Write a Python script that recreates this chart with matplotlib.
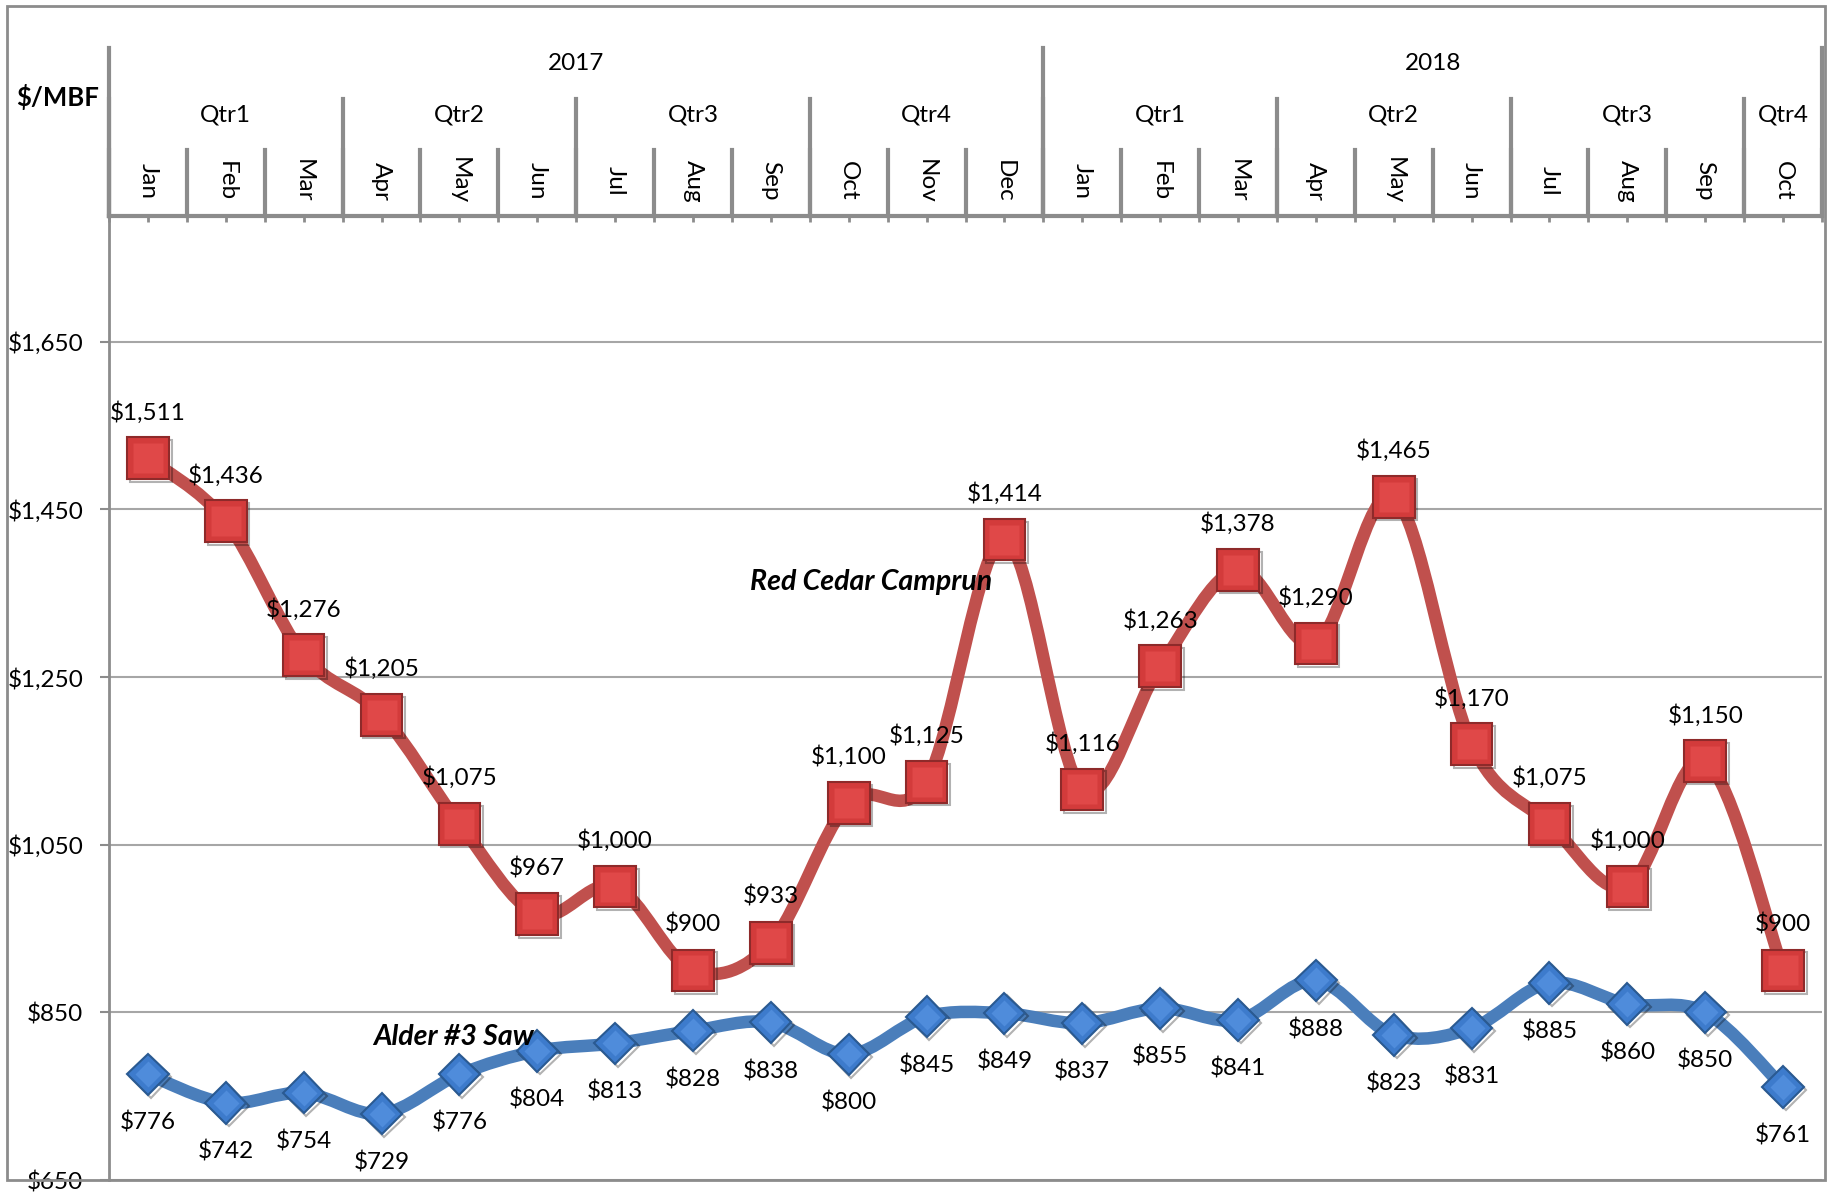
import matplotlib.pyplot as plt
import matplotlib.patheffects as pe
from matplotlib.path import Path
from matplotlib.patches import PathPatch, Rectangle

# data
months = ['Jan', 'Feb', 'Mar', 'Apr', 'May', 'Jun', 'Jul', 'Aug', 'Sep', 'Oct', 'Nov', 'Dec',
          'Jan', 'Feb', 'Mar', 'Apr', 'May', 'Jun', 'Jul', 'Aug', 'Sep', 'Oct']
quarters = ['Qtr1', 'Qtr2', 'Qtr3', 'Qtr4', 'Qtr1', 'Qtr2', 'Qtr3', 'Qtr4']
quarter_len = [3, 3, 3, 3, 3, 3, 3, 1]
years = ['2017', '2018']
year_len = [12, 10]
cedar = [1511, 1436, 1276, 1205, 1075, 967, 1000, 900, 933, 1100, 1125, 1414,
         1116, 1263, 1378, 1290, 1465, 1170, 1075, 1000, 1150, 900]
alder = [776, 742, 754, 729, 776, 804, 813, 828, 838, 800, 845, 849,
         837, 855, 841, 888, 823, 831, 885, 860, 850, 761]
yticks = [650, 850, 1050, 1250, 1450, 1650]

plt.rcParams['font.family'] = ['Lato', 'DejaVu Sans']
FS = 17.5
GRAY = '#8C8C8C'

W, H = 1834, 1192
fig = plt.figure(figsize=(W / 100, H / 100), dpi=100)

x0, x1, ytop, ybot = 109, 1822, 216, 1180
ax = fig.add_axes([x0 / W, (H - ybot) / H, (x1 - x0) / W, (ybot - ytop) / H])
hax = fig.add_axes([x0 / W, (H - ytop) / H, (x1 - x0) / W, 168 / H])

n = len(months)
xs = list(range(n))


def smooth_path(x, y):
    # excel-like smoothed line (bezier through the points)
    verts = [(x[0], y[0])]
    codes = [Path.MOVETO]
    m = len(x)
    for i in range(m - 1):
        pa = (x[i - 1], y[i - 1]) if i > 0 else (x[i], y[i])
        pb = (x[i + 2], y[i + 2]) if i + 2 < m else (x[i + 1], y[i + 1])
        c1 = (x[i] + (x[i + 1] - pa[0]) / 6, y[i] + (y[i + 1] - pa[1]) / 6)
        c2 = (x[i + 1] - (pb[0] - x[i]) / 6, y[i + 1] - (pb[1] - y[i]) / 6)
        verts += [c1, c2, (x[i + 1], y[i + 1])]
        codes += [Path.CURVE4] * 3
    return Path(verts, codes)


ax.set_xlim(-0.5, n - 0.5)
ax.set_ylim(650, 1800)
ax.set_yticks(yticks)
ax.set_yticklabels(['${:,}'.format(v) for v in yticks], fontsize=FS)
ax.yaxis.grid(True, color='#A6A6A6', lw=1.5)
ax.set_axisbelow(True)
ax.tick_params(axis='y', length=6.5, width=1.5, color=GRAY, pad=12)
ax.xaxis.tick_top()
ax.set_xticks(xs)
ax.set_xticks([i - 0.5 for i in range(n + 1)], minor=True)
ax.tick_params(axis='x', which='both', direction='in', length=4.5, width=2,
               color=GRAY, labeltop=False, labelbottom=False)
for s in ['right', 'bottom']:
    ax.spines[s].set_visible(False)
ax.spines['left'].set_color(GRAY)
ax.spines['left'].set_linewidth(2)
ax.spines['top'].set_color(GRAY)
ax.spines['top'].set_linewidth(3)

# lines
ax.add_patch(PathPatch(smooth_path(xs, cedar), fill=False, edgecolor='#C0504D',
                       lw=9, capstyle='round', joinstyle='round', zorder=3))
ax.add_patch(PathPatch(smooth_path(xs, alder), fill=False, edgecolor='#4A7EBB',
                       lw=9, capstyle='round', joinstyle='round', zorder=3))
ax.plot(xs, cedar, ls='none', marker='s', ms=30, mfc='#D33B3B', mec='#8E2A2A', mew=1.5,
        zorder=4, path_effects=[pe.SimpleLineShadow(offset=(2, -2), alpha=0.3), pe.Normal()])
ax.plot(xs, cedar, ls='none', marker='s', ms=21, mfc='#E04848', mec='none', zorder=5)
ax.plot(xs, alder, ls='none', marker='D', ms=21, mfc='#3D7BCC', mec='#2A5A92', mew=1.5,
        zorder=4, path_effects=[pe.SimpleLineShadow(offset=(2, -2), alpha=0.3), pe.Normal()])
ax.plot(xs, alder, ls='none', marker='D', ms=13, mfc='#4F8CDB', mec='none', zorder=5)

for i in xs:
    ax.annotate('${:,}'.format(cedar[i]), (i, cedar[i]), xytext=(0, 33),
                textcoords='offset points', ha='center', va='center', fontsize=FS, zorder=6)
    ax.annotate('${:,}'.format(alder[i]), (i, alder[i]), xytext=(0, -35),
                textcoords='offset points', ha='center', va='center', fontsize=FS, zorder=6)

ax.text(9.29, 1363, 'Red Cedar Camprun', fontsize=20.5, fontweight='bold', style='italic',
        ha='center', va='center', zorder=6)
ax.text(3.92, 821, 'Alder #3 Saw', fontsize=20.5, fontweight='bold', style='italic',
        ha='center', va='center', zorder=6)

# multi level category header
hax.set_xlim(-0.5, n - 0.5)
hax.set_ylim(0, 168)
hax.axis('off')
for i, m in enumerate(months):
    hax.text(i, 35, m, rotation=-90, ha='center', va='center', fontsize=FS)
for i in range(n + 1):
    hax.plot([i - 0.5, i - 0.5], [0, 66], color=GRAY, lw=3, clip_on=False)
start = 0
for q, ln in zip(quarters, quarter_len):
    hax.text(start + ln / 2 - 0.5, 101, q, ha='center', va='center', fontsize=FS)
    hax.plot([start - 0.5, start - 0.5], [0, 117], color=GRAY, lw=3, clip_on=False)
    start += ln
start = 0
for yr, ln in zip(years, year_len):
    hax.text(start + ln / 2 - 0.5, 153, yr, ha='center', va='center', fontsize=FS)
    hax.plot([start - 0.5, start - 0.5], [0, 168], color=GRAY, lw=3, clip_on=False)
    start += ln
hax.plot([n - 0.5, n - 0.5], [0, 168], color=GRAY, lw=3, clip_on=False)

fig.text(58 / W, 1 - 97 / H, '$/MBF', fontsize=18.5, fontweight='bold', ha='center', va='center')

# chart border
fig.patches.append(Rectangle((7 / W, (H - 1180) / H), (1825 - 7) / W, (1180 - 6) / H,
                             transform=fig.transFigure, fill=False, edgecolor=GRAY, lw=2))

fig.savefig('out.png', dpi=100)
